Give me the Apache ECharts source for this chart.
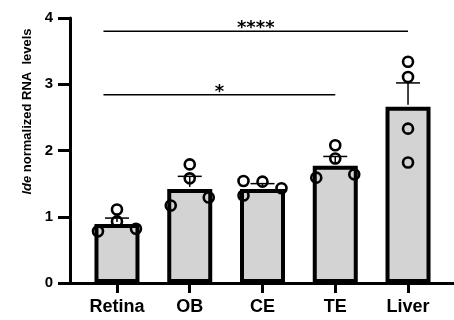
<!DOCTYPE html>
<html><head><meta charset="utf-8">
<script src="https://cdn.jsdelivr.net/npm/echarts@6/dist/echarts.min.js"></script>
<style>html,body{margin:0;padding:0;background:#fff}#c{width:454px;height:320px}</style>
</head><body><div id="c"></div>
<script>
const categories = ['Retina', 'OB', 'CE', 'TE', 'Liver'];
const means = [0.89, 1.42, 1.42, 1.77, 2.66];
const errTops = [0.98, 1.61, 1.50, 1.91, 3.02];
const dotValues = [
  [1.11, 0.93, 0.78, 0.82],
  [1.79, 1.58, 1.17, 1.29],
  [1.54, 1.53, 1.43, 1.32],
  [2.08, 1.88, 1.59, 1.64],
  [3.34, 3.11, 2.33, 1.82]
];
const dotSlots = [
  [0, 0, -1, 1],
  [0, 0, -1, 1],
  [-1, 0, 1, -1],
  [0, 0, -1, 1],
  [0, 0, 0, 0]
];
const yTicks = [0, 1, 2, 3, 4];
const bracketFrom = [0, 0];
const bracketTo = [4, 3];
const bracketY = [3.80, 2.84];
const bracketLabels = ['****', '*'];
const yTitleItalic = 'Ide';
const yTitleRest = ' normalized RNA  levels';

const FONT = 'Arial, "Liberation Sans", sans-serif';
const chart = echarts.init(document.getElementById('c'), null, {renderer: 'canvas'});

const dotData = [];
dotValues.forEach((vals, i) => vals.forEach((v, j) => dotData.push([i, v, dotSlots[i][j]])));

const option = {
  animation: false,
  backgroundColor: '#fff',
  grid: [
    {left: 80.6, right: 9.6, top: 18, bottom: 37},
    {left: 70, right: 0, top: 18, bottom: 37}
  ],
  xAxis: [
    {
      type: 'category', gridIndex: 0, data: categories,
      axisLine: {show: false},
      axisTick: {show: true, alignWithLabel: true, length: 10, lineStyle: {color: '#000', width: 3}},
      axisLabel: {color: '#000', fontWeight: 'bold', fontSize: 18, fontFamily: FONT, margin: 15}
    },
    {
      type: 'value', gridIndex: 1, min: 0, max: 1,
      axisLine: {show: true, onZero: false, lineStyle: {color: '#000', width: 3}},
      axisTick: {show: false}, axisLabel: {show: false}, splitLine: {show: false}
    }
  ],
  yAxis: [
    {
      type: 'value', gridIndex: 0, min: yTicks[0], max: yTicks[yTicks.length - 1], interval: 1,
      offset: 10.6,
      axisLine: {show: true, lineStyle: {color: '#000', width: 3}},
      axisTick: {show: true, length: 12, lineStyle: {color: '#000', width: 3}},
      axisLabel: {color: '#000', fontWeight: 'bold', fontSize: 15, fontFamily: FONT, margin: 17},
      splitLine: {show: false}
    },
    {type: 'value', gridIndex: 1, show: false, min: 0, max: 1}
  ],
  graphic: [{
    type: 'text', x: 27.5, y: 111.5, rotation: Math.PI / 2,
    style: {
      text: '{i|' + yTitleItalic + '}' + yTitleRest,
      font: 'bold 13px ' + FONT,
      fill: '#000', align: 'center', verticalAlign: 'middle',
      rich: {i: {fontStyle: 'italic', fontWeight: 'bold', fontSize: 13, fontFamily: FONT, fill: '#000'}}
    }
  }],
  series: [
    {
      type: 'bar', xAxisIndex: 0, yAxisIndex: 0, data: means, barWidth: 45,
      itemStyle: {color: '#d3d3d3', borderColor: '#000', borderWidth: 4},
      z: 2
    },
    {
      type: 'custom', xAxisIndex: 0, yAxisIndex: 0, z: 3,
      data: categories.map((c, i) => [i, means[i], errTops[i]]),
      renderItem: function (params, api) {
        const p0 = api.coord([api.value(0), api.value(1)]);
        const p1 = api.coord([api.value(0), api.value(2)]);
        const st = {stroke: '#000', lineWidth: 1.5};
        return {type: 'group', children: [
          {type: 'line', shape: {x1: p0[0], y1: p0[1] - 2, x2: p1[0], y2: p1[1]}, style: st},
          {type: 'line', shape: {x1: p1[0] - 12, y1: p1[1], x2: p1[0] + 12, y2: p1[1]}, style: st}
        ]};
      }
    },
    {
      type: 'custom', xAxisIndex: 0, yAxisIndex: 0, z: 4,
      data: dotData,
      renderItem: function (params, api) {
        const p = api.coord([api.value(0), api.value(1)]);
        return {type: 'circle', shape: {cx: p[0] + api.value(2) * 19, cy: p[1], r: 5},
          style: {fill: 'transparent', stroke: '#000', lineWidth: 2.6}};
      }
    },
    {
      type: 'custom', xAxisIndex: 0, yAxisIndex: 0, z: 4,
      data: bracketFrom.map((f, i) => [f, bracketTo[i], bracketY[i]]),
      renderItem: function (params, api) {
        const a = api.coord([api.value(0), api.value(2)]);
        const b = api.coord([api.value(1), api.value(2)]);
        const x1 = a[0] - 13.5;
        return {type: 'group', children: [
          {type: 'line', shape: {x1: x1, y1: a[1], x2: b[0], y2: b[1]}, style: {stroke: '#000', lineWidth: 1.5}},
          {type: 'text', x: (x1 + b[0]) / 2, y: a[1] - 3,
            style: {text: bracketLabels[params.dataIndex], font: 'bold 18px "DejaVu Sans", sans-serif', fill: '#000', align: 'center', verticalAlign: 'middle'}}
        ]};
      }
    }
  ]
};
chart.setOption(option);
</script>
</body></html>
